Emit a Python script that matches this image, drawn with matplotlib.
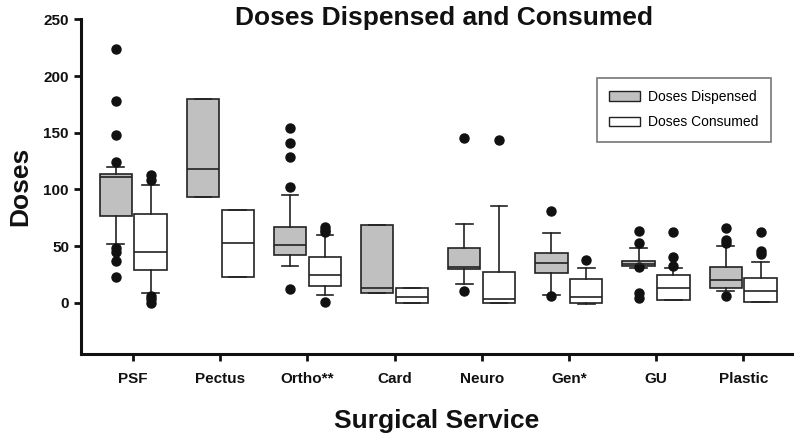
import numpy as np
import matplotlib
matplotlib.use("Agg")
import matplotlib.pyplot as plt
from matplotlib.patches import Patch

plt.rcParams['font.family'] = ['Liberation Sans', 'DejaVu Sans']

categories = ['PSF', 'Pectus', 'Ortho**', 'Card', 'Neuro', 'Gen*', 'GU', 'Plastic']

# doses dispensed
disp_whislo = [52, 93.4, 32, 8.5, 16.4, 6.5, 31, 10]
disp_q1 = [76.3, 93.4, 42.4, 8.5, 29.7, 26.5, 32.7, 12.9]
disp_med = [111, 117.6, 50.7, 13.3, 31.3, 35, 34.5, 19.7]
disp_q3 = [113.2, 179.5, 66.9, 68.3, 48.6, 44.2, 36.5, 31.8]
disp_whishi = [120, 179.5, 95.5, 68.3, 69.5, 61.3, 48.3, 50.4]
disp_fliers = [[224, 178, 148, 124, 48, 45, 37, 23],
               [],
               [154, 141, 129, 102, 12],
               [],
               [145, 10],
               [81, 6],
               [63, 53, 31.5, 9, 4.5],
               [66, 55, 53, 6]]

# doses consumed
cons_whislo = [8.5, 23, 6.7, 0, 0, -1, 2, 1]
cons_q1 = [28.6, 23, 15, 0, 0, 0, 2, 1]
cons_med = [44.7, 53, 24.1, 4.7, 3.5, 5.3, 12.9, 10.3]
cons_q3 = [78, 81.6, 40, 12.9, 27, 20.9, 24.4, 21.8]
cons_whishi = [103.7, 81.6, 59.8, 12.9, 85, 30.6, 30.6, 35.9]
cons_fliers = [[113, 108, 6, 3, 0],
               [],
               [67, 64, 62, 1],
               [],
               [144],
               [38],
               [62, 40, 32.5],
               [62, 46, 43]]


def make_stats(lo, q1, med, q3, hi, fl):
    out = []
    for i in range(len(lo)):
        out.append(dict(whislo=lo[i], q1=q1[i], med=med[i], q3=q3[i],
                        whishi=hi[i], fliers=fl[i]))
    return out


fig = plt.figure(figsize=(8, 4.43), dpi=100)
ax = fig.add_axes([0.101, 0.2016, 0.889, 0.7544])

x = np.arange(len(categories))
off = 0.2
bw = 0.37
lw = 1.2
gray = '#c0c0c0'

for stats, pos, col in [(make_stats(disp_whislo, disp_q1, disp_med, disp_q3, disp_whishi, disp_fliers), x - off, gray),
                        (make_stats(cons_whislo, cons_q1, cons_med, cons_q3, cons_whishi, cons_fliers), x + off, 'white')]:
    ax.bxp(stats, positions=pos, widths=bw, capwidths=0.19, patch_artist=True,
           boxprops=dict(facecolor=col, edgecolor='#222222', linewidth=lw),
           medianprops=dict(color='#222222', linewidth=lw),
           whiskerprops=dict(color='#222222', linewidth=lw),
           capprops=dict(color='#222222', linewidth=lw),
           flierprops=dict(marker='o', markerfacecolor='#111111', markeredgecolor='#111111',
                           markersize=6.5, linestyle='none'),
           manage_ticks=False)

ax.set_xlim(-0.6, 7.56)
ax.set_ylim(-45, 250)
ax.set_xticks(x)
ax.set_xticklabels(categories, fontsize=11, fontweight='bold', color='#111111')
ax.set_yticks([0, 50, 100, 150, 200, 250])
ax.set_yticklabels(['0', '50', '100', '150', '200', '250'], fontsize=11,
                   fontweight='bold', color='#111111')
ax.tick_params(axis='both', direction='out', length=5, width=2, color='#111111')
ax.tick_params(axis='x', pad=8)

for s in ['top', 'right']:
    ax.spines[s].set_visible(False)
for s in ['left', 'bottom']:
    ax.spines[s].set_linewidth(2.2)
    ax.spines[s].set_color('#111111')

ax.set_ylabel('Doses', fontsize=19, fontweight='bold', color='#111111', labelpad=8)
ax.set_xlabel('Surgical Service', fontsize=19, fontweight='bold', color='#111111', labelpad=17)
fig.text(0.555, 0.96, 'Doses Dispensed and Consumed', ha='center', va='center',
         fontsize=19, fontweight='bold', color='#111111')

handles = [Patch(facecolor=gray, edgecolor='#222222', linewidth=1),
           Patch(facecolor='white', edgecolor='#222222', linewidth=1)]
leg = ax.legend(handles, ['Doses Dispensed', 'Doses Consumed'], loc='upper left',
                bbox_to_anchor=(596.7 / 800, 1 - 77.7 / 443), bbox_transform=fig.transFigure,
                fontsize=10, frameon=True, fancybox=False, handlelength=2.2,
                handleheight=0.7, borderpad=0.9, labelspacing=0.8, handletextpad=0.6,
                borderaxespad=0)
leg.get_frame().set_edgecolor('#555555')
leg.get_frame().set_linewidth(1.2)

fig.savefig('out.png', dpi=100)
